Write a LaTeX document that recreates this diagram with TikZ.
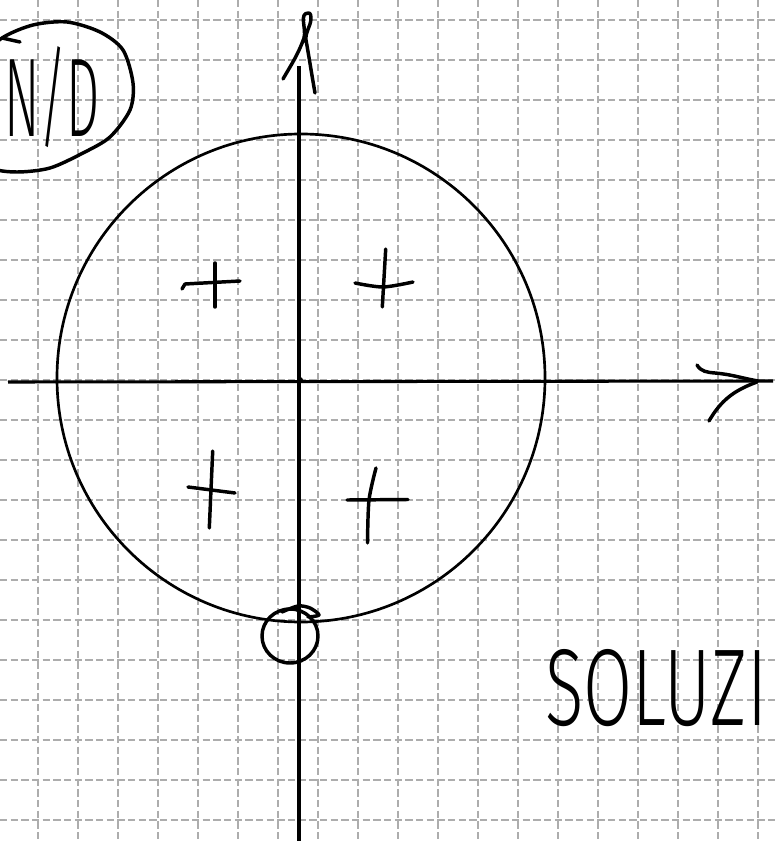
\documentclass[tikz,border=0pt]{standalone}
\usepackage{fontspec}
\newfontfamily\handfont{Fira Sans Light}
\begin{document}
\begin{tikzpicture}[x=0.75pt,y=-0.75pt,
  gridline/.style={draw=black!32, line width=1.5pt, dash pattern=on 5.5pt off 2.5pt},
  axisline/.style={line width=2.3pt},
  pen/.style={line width=2.6pt, line cap=round, line join=round},
  ring/.style={line width=2pt},
  handtext/.style={inner sep=0pt, anchor=base west}]
\useasboundingbox (0,0) rectangle (775,841);
\fill[white] (0,0) rectangle (775,841);
% squared paper
\foreach \gx in {38.3,78.3,...,760} \draw[gridline] (\gx,0) -- (\gx,841);
\foreach \gy in {20,60,...,830} \draw[gridline] (0,\gy) -- (775,\gy);
% axes
\coordinate (xstart) at (8,382);
\coordinate (xend) at (773,381);
\coordinate (ystart) at (299,841);
\coordinate (yend) at (299,66);
\coordinate (origin) at (300,380);
\draw[axisline] (xstart) -- (xend);
\draw[axisline] (ystart) -- (yend);
\fill (origin) circle[radius=3];
% hand-drawn arrow heads
\draw[pen] (697,365) to[out=-60,in=175] (715,373) to[out=-5,in=170] (758,381);
\draw[pen] (709,421) to[out=60,in=200] (757,382);
\draw[pen] (283,79) to[out=60,in=-110] (304,38) to[out=75,in=180] (308.5,13) to[out=0,in=90] (311,19) to[out=-95,in=95] (306,40) to[out=-80,in=100] (315,93);
% big circle
\coordinate (cc) at (301,378);
\draw[ring] (cc) circle[radius=244];
% small circle at the bottom
\coordinate (sc) at (290,636);
\draw[pen] (sc) ellipse[x radius=28, y radius=27];
\draw[pen] plot[smooth] coordinates {(282,612) (298,606) (310,608) (319,615) (308,617)};
% plus marks
\draw[pen] (182,289) -- (185,284) -- (240,281);
\draw[pen] (215,263) -- (215,307);
\draw[pen] plot[smooth] coordinates {(355,283) (383,287) (413,282)};
\draw[pen] (385.7,249) -- (382.3,307);
\draw[pen] (188,487) -- (235,493);
\draw[pen] (212.7,451) -- (209.3,528);
\draw[pen] (347,500) -- (408,499.5);
\draw[pen] plot[smooth] coordinates {(376,468) (369,500) (367.5,543)};
% N/D bubble
\draw[pen] plot[smooth] coordinates {(-25,62) (2,38) (33,25) (67,22) (100,32) (123,50) (133,83) (130,110) (110,137) (83,153) (50,168) (17,172) (-10,168) (-40,150)};
\draw[pen] (2,38) -- (20,42);
\node[handtext, xscale=0.47] (nd) at (4,137) {\handfont\fontsize{84}{90}\selectfont N/D};
% solution label
\node[handtext, xscale=0.65] (sol) at (545,725) {\handfont\fontsize{82}{85}\selectfont SOLUZI};
\end{tikzpicture}
\end{document}
